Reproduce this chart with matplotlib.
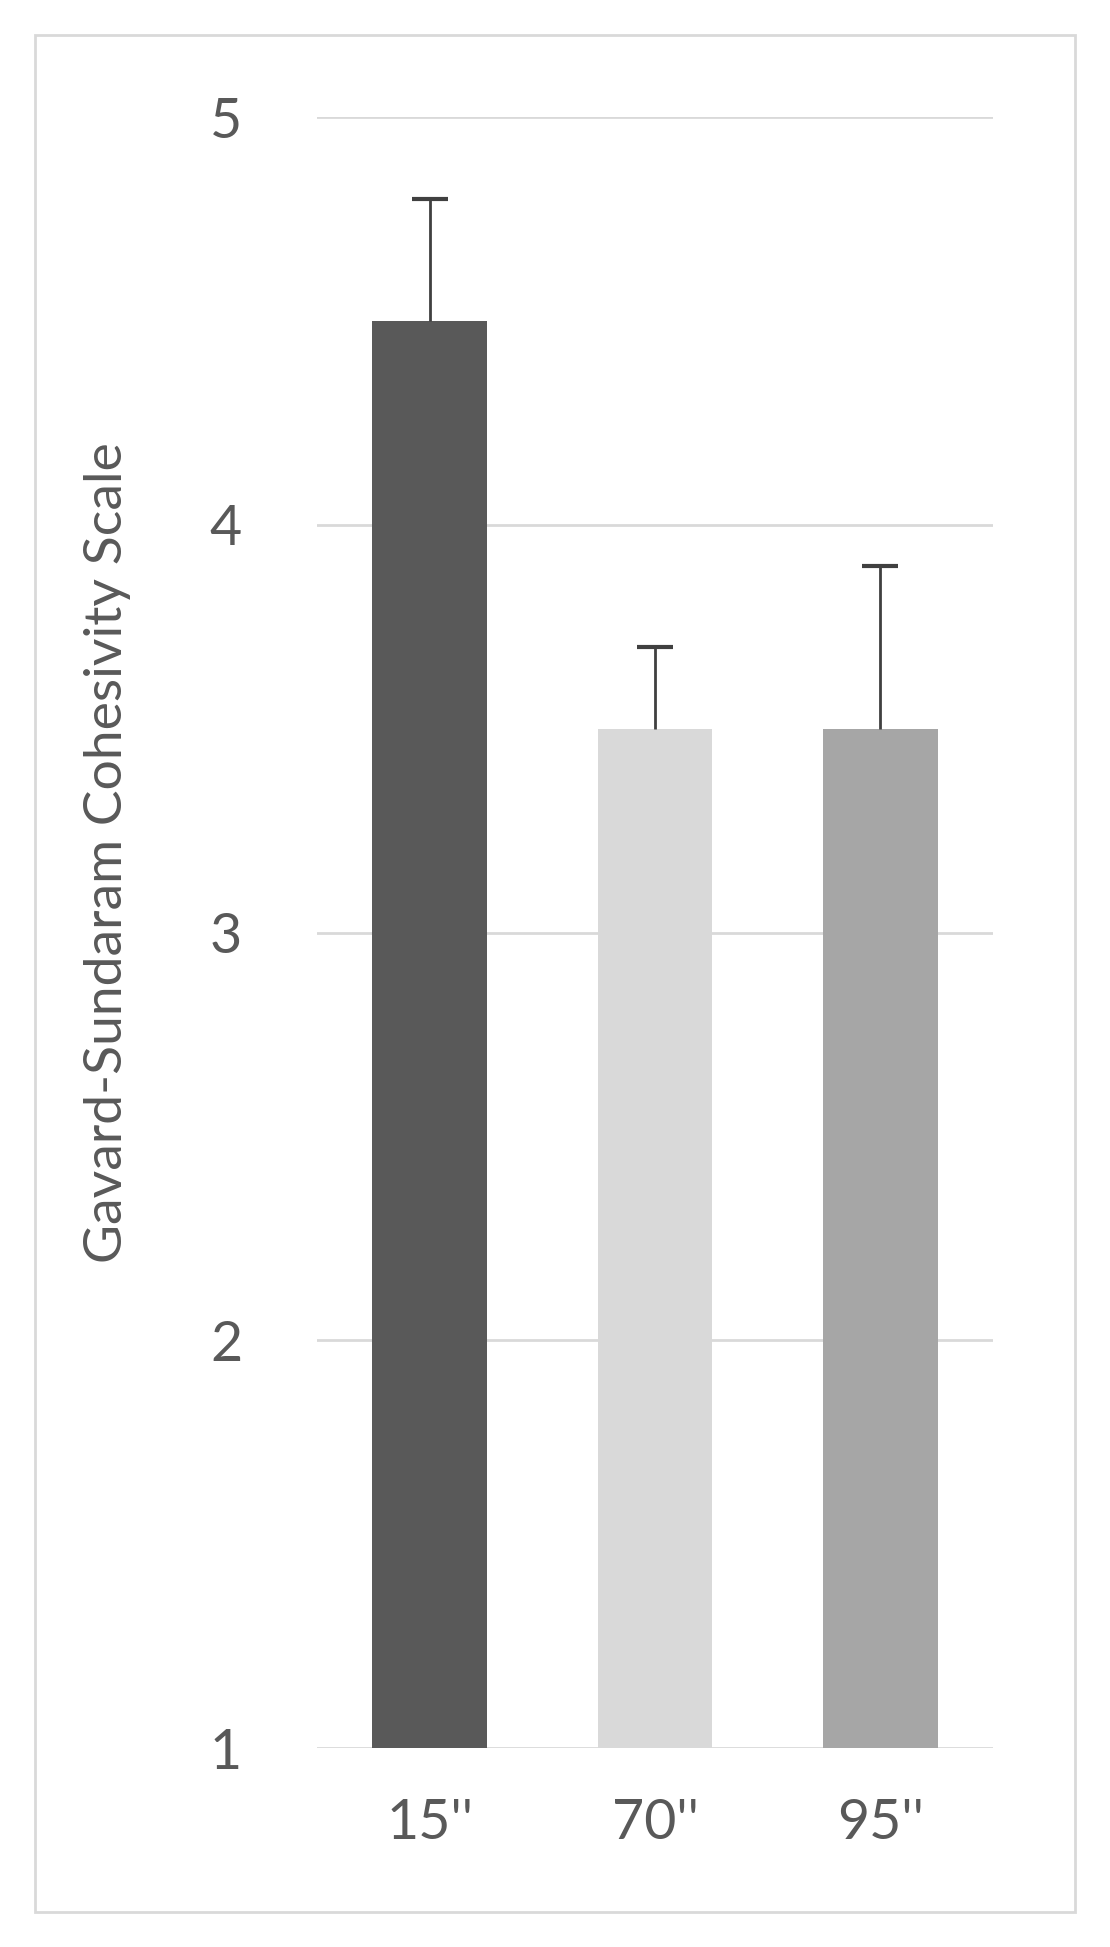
import matplotlib
matplotlib.use("Agg")
import matplotlib.pyplot as plt
from matplotlib.patches import Rectangle

# ── Data ─────────────────────────────────────────────────────────────────────
categories = ["15''", "70''", "95''"]
means = [4.5, 3.5, 3.5]
errors = [0.3, 0.2, 0.4]
bar_colors = ["#595959", "#d9d9d9", "#a6a6a6"]
yticks = [1, 2, 3, 4, 5]

plt.rcParams["font.family"] = ["Lato", "DejaVu Sans"]
TEXT = "#595959"

fig = plt.figure(figsize=(11.1, 19.47), dpi=100)
ax = fig.add_axes([0.2856, 0.1022, 0.609, 0.8377])

x = list(range(len(categories)))
tops = [m + e for m, e in zip(means, errors)]
ax.bar(x, means, width=0.51, color=bar_colors, zorder=2)
# upper-only error bars with a cap at the top
ax.vlines(x, means, tops, color="#404040", linewidth=2, zorder=3)
ax.plot(x, tops, linestyle="none", marker="_", markersize=26,
        markeredgewidth=3, color="#404040", zorder=3)

ax.set_xlim(-0.5, 2.5)
ax.set_ylim(1, 5)
ax.set_yticks(yticks)
ax.set_xticks(x)
ax.set_xticklabels(categories)
ax.grid(axis="y", color="#d9d9d9", linewidth=2, zorder=0)
ax.set_axisbelow(True)
for side in ["top", "right", "left", "bottom"]:
    ax.spines[side].set_visible(False)
ax.tick_params(axis="both", length=0, labelsize=40, labelcolor=TEXT)
ax.tick_params(axis="y", pad=54)
ax.tick_params(axis="x", pad=36)
ax.set_ylabel("Gavard-Sundaram Cohesivity Scale", fontsize=38.5, color=TEXT)
ax.yaxis.set_label_coords(-0.275, 0.549)

# outer chart border
fig.patches.append(Rectangle((35 / 1110, 1 - 1912 / 1947), 1040 / 1110,
                             1877 / 1947, transform=fig.transFigure,
                             fill=False, edgecolor="#d9d9d9", linewidth=2))

fig.savefig("out.png", dpi=100, facecolor="white")
